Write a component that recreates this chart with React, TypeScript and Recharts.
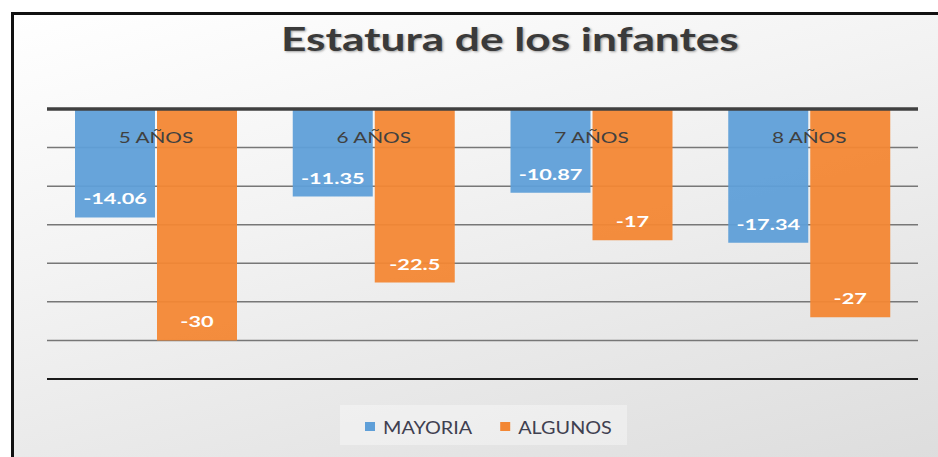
import { BarChart, Bar, XAxis, YAxis, CartesianGrid, ReferenceLine, LabelList, Legend } from "recharts";

const categories = ["5 AÑOS", "6 AÑOS", "7 AÑOS", "8 AÑOS"];
const mayoria = [-14.06, -11.35, -10.87, -17.34];
const algunos = [-30, -22.5, -17, -27];
const yTicks = [0, -5, -10, -15, -20, -25, -30, -35];
const seriesOrder = ["MAYORIA", "ALGUNOS"];

const FONT = "Lato, 'Open Sans', sans-serif";
const BLUE = "#5f9fd8";
const ORANGE = "#f38734";
const TEXT = "#404040";

// the reference image is stretched sideways, so text gets a horizontal scale
const TITLE_SX = 1.34;
const LABEL_SX = 1.45;
const CAT_SX = 1.3;
const LEGEND_SX = 1.2;

const data = categories.map((name, i) => ({ name, MAYORIA: mayoria[i], ALGUNOS: algunos[i] }));

const measureCtx = typeof document !== "undefined" ? document.createElement("canvas").getContext("2d") : null;
function textWidth(text: string, font: string) {
  if (!measureCtx) return text.length * 9;
  measureCtx.font = font;
  return measureCtx.measureText(text).width;
}

function CategoryLabel(props: any) {
  const box = props.viewBox ?? props;
  const { x, y, height } = box;
  const top = Math.min(y, y + height);
  // labels sit centred between the two bars of each group
  const cx = x - 1;
  return (
    <text
      transform={`translate(${cx},${top + 34}) scale(${CAT_SX},1)`}
      textAnchor="middle"
      fontSize={16}
      fill={TEXT}
      fontFamily={FONT}
    >
      {props.value}
    </text>
  );
}

function ValueLabel(props: any) {
  const box = props.viewBox ?? props;
  const { x, y, width, height } = box;
  const end = Math.max(y, y + height);
  return (
    <text
      transform={`translate(${x + width / 2},${end - 13}) scale(${LABEL_SX},1)`}
      textAnchor="middle"
      fill="#fff"
      fontWeight="bold"
      fontSize={15}
      fontFamily={FONT}
    >
      {props.value}
    </text>
  );
}

function LegendBox({ payload }: any) {
  const items = [...(payload ?? [])].sort((a: any, b: any) => seriesOrder.indexOf(a.value) - seriesOrder.indexOf(b.value));
  const font = `16.5px ${FONT}`;
  const sq = 10;
  let cursor = 25;
  const laid = items.map((p: any) => {
    const w = textWidth(p.value, font) * LEGEND_SX;
    const item = { p, sqX: cursor, textX: cursor + sq + 8 };
    cursor += sq + 8 + w + 28;
    return item;
  });
  return (
    <svg width={287} height={40} style={{ display: "block" }}>
      <rect x={0} y={0} width={287} height={40} fill="#ffffff" fillOpacity={0.35} />
      {laid.map((it: any) => (
        <g key={it.p.value}>
          <rect x={it.sqX} y={17} width={sq} height={sq - 1} fill={it.p.color} />
          <text
            transform={`translate(${it.textX},${29}) scale(${LEGEND_SX},1)`}
            fontSize={16.5}
            fill="#3f4050"
            fontFamily={FONT}
          >
            {it.p.value}
          </text>
        </g>
      ))}
    </svg>
  );
}

export default function App() {
  return (
    <div style={{ position: "absolute", left: 0, top: 0, width: 938, height: 457, overflow: "hidden", background: "#fff" }}>
      <div
        style={{
          position: "absolute",
          left: 11,
          top: 12,
          width: 990,
          height: 490,
          borderLeft: "3px solid #111",
          borderTop: "3px solid #111",
          background: "linear-gradient(165deg, #ffffff 0%, #f3f3f3 35%, #dadada 100%)",
        }}
      />
      <div
        style={{
          position: "absolute",
          left: 0,
          top: 19,
          width: 1020,
          textAlign: "center",
          fontFamily: FONT,
          fontWeight: "bold",
          fontSize: 33,
          lineHeight: 1.2,
          color: "#3a3a3a",
          textShadow: "1px 1px 2px rgba(0,0,0,0.35)",
        }}
      >
        <span style={{ display: "inline-block", transform: `scaleX(${TITLE_SX})` }}>Estatura de los infantes</span>
      </div>
      <div style={{ position: "absolute", left: 0, top: 0 }}>
        <BarChart
          width={938}
          height={457}
          data={data}
          margin={{ top: 109, right: 20, bottom: 78, left: 47 }}
          barCategoryGap={28}
          barGap={2}
        >
          <CartesianGrid vertical={false} stroke="#777" strokeWidth={1.5} />
          <XAxis dataKey="name" orientation="top" height={0} hide />
          <YAxis hide domain={[-35, 0]} ticks={yTicks} />
          <Bar dataKey="MAYORIA" fill={BLUE} fillOpacity={0.95} isAnimationActive={false}>
            <LabelList dataKey="MAYORIA" content={<ValueLabel />} />
          </Bar>
          <Bar dataKey="ALGUNOS" fill={ORANGE} fillOpacity={0.95} isAnimationActive={false}>
            <LabelList dataKey="ALGUNOS" content={<ValueLabel />} />
            <LabelList dataKey="name" content={<CategoryLabel />} />
          </Bar>
          <ReferenceLine y={0} stroke="#404040" strokeWidth={3.5} />
          <ReferenceLine y={-35} stroke="#1a1a1a" strokeWidth={2} />
          <Legend
            layout="horizontal"
            verticalAlign="middle"
            align="center"
            wrapperStyle={{ top: 405, left: 340, width: 287, height: 40 }}
            content={<LegendBox />}
          />
        </BarChart>
      </div>
    </div>
  );
}
